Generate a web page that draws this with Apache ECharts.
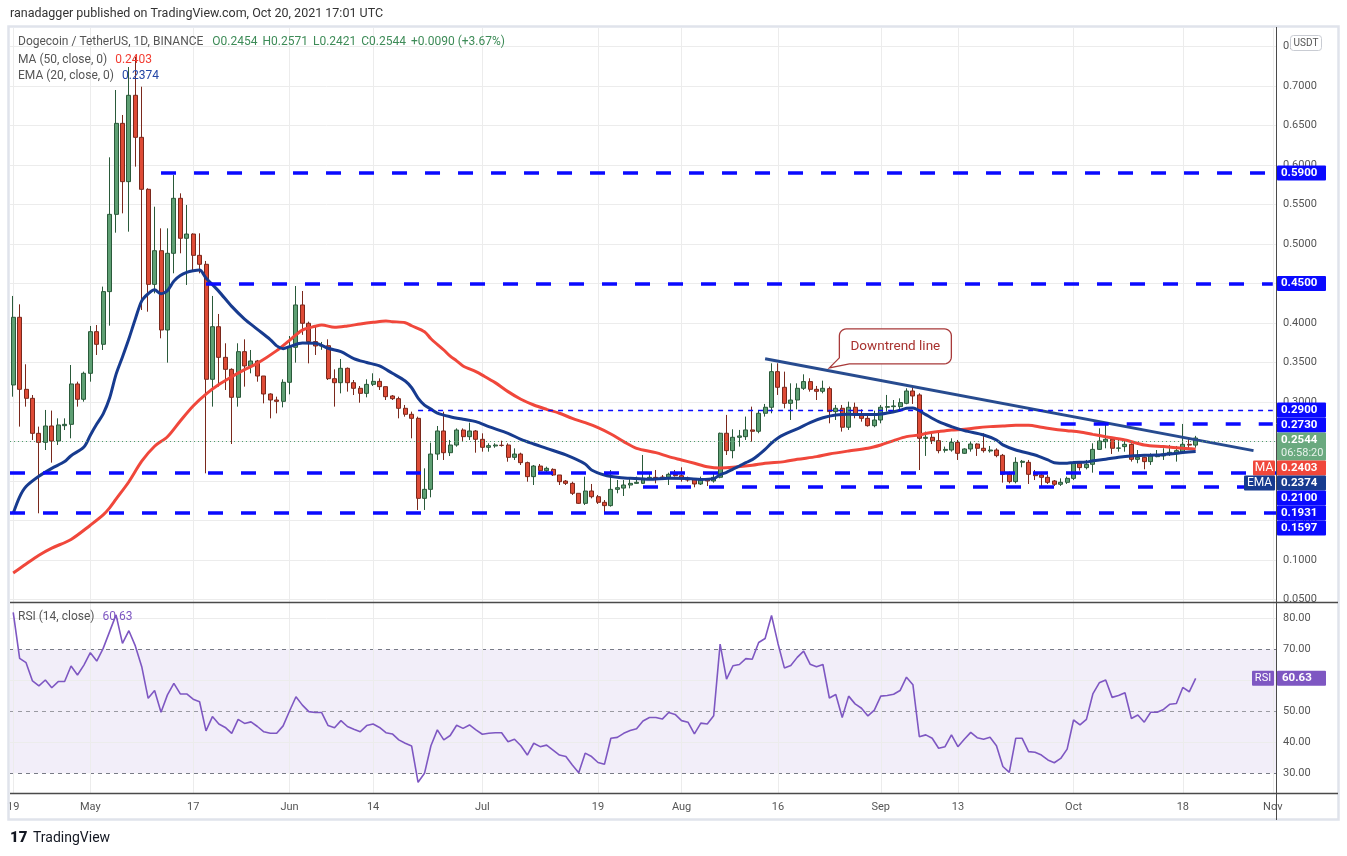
<!DOCTYPE html>
<html><head><meta charset="utf-8">
<script src="https://cdn.jsdelivr.net/npm/echarts/dist/echarts.min.js"></script>
<style>html,body{margin:0;padding:0;background:#fff;}#c{width:1347px;height:856px;}</style>
</head><body><div id="c"></div>
<script>
// ---------------- DATA ----------------
const startDate = [2021, 3, 19];          // 19 Apr 2021, daily bars
const categoryCount = 197;                 // axis runs to 1 Nov 2021
const tickDays   = [0, 12, 28, 43, 56, 73, 91, 104, 119, 135, 147, 165, 182, 196];
const tickLabels = ['19','May','17','Jun','14','Jul','19','Aug','16','Sep','13','Oct','18','Nov'];
const priceTicks = [0.05,0.10,0.15,0.20,0.25,0.30,0.35,0.40,0.45,0.50,0.55,0.60,0.65,0.70,0.75];
const rsiTicks   = [30,40,50,60,70,80];

// [open, high, low, close]
const candles = [
[0.3215,0.4342,0.3067,0.4072],[0.4072,0.4236,0.2688,0.3160],[0.3160,0.3477,0.2941,0.3046],[0.3046,0.3088,0.2519,0.2603],
[0.2603,0.2688,0.1591,0.2489],[0.2489,0.2899,0.2392,0.2696],[0.2696,0.2891,0.2232,0.2506],[0.2506,0.2793,0.2456,0.2709],
[0.2700,0.2793,0.2645,0.2717],[0.2717,0.3468,0.2540,0.3228],[0.3228,0.3257,0.2941,0.3034],[0.3034,0.3384,0.3004,0.3363],
[0.3363,0.3962,0.3257,0.3890],[0.3890,0.3974,0.3595,0.3730],[0.3730,0.4460,0.3658,0.4397],[0.4397,0.6097,0.3966,0.5375],
[0.5375,0.6949,0.5143,0.6527],[0.6527,0.6633,0.5388,0.5789],[0.5789,0.7240,0.5156,0.6882],[0.6882,0.7370,0.5979,0.6350],
[0.6350,0.6991,0.4164,0.5692],[0.5692,0.5705,0.4143,0.4489],[0.4489,0.5472,0.4375,0.4915],[0.4915,0.5198,0.3806,0.3911],
[0.3911,0.5198,0.3498,0.4882],[0.4882,0.5873,0.4629,0.5578],[0.5578,0.5641,0.4882,0.5072],[0.5072,0.5494,0.4481,0.5126],
[0.5126,0.5135,0.4650,0.4856],[0.4856,0.5135,0.4629,0.4743],[0.4743,0.4785,0.2097,0.3287],[0.3287,0.4342,0.2941,0.3953],
[0.3953,0.4114,0.3194,0.3565],[0.3565,0.3743,0.3152,0.3413],[0.3413,0.3426,0.2468,0.3059],[0.3059,0.3743,0.2941,0.3637],
[0.3637,0.3793,0.3194,0.3456],[0.3456,0.3658,0.3363,0.3519],[0.3519,0.3532,0.3257,0.3329],[0.3329,0.3329,0.2983,0.3101],
[0.3101,0.3110,0.2793,0.3025],[0.3025,0.3067,0.2856,0.3008],[0.3008,0.3287,0.2932,0.3249],[0.3249,0.3835,0.3097,0.3692],
[0.3692,0.4468,0.3498,0.4228],[0.4228,0.4405,0.3850,0.3996],[0.3996,0.4017,0.3489,0.3764],[0.3764,0.3953,0.3595,0.3709],
[0.3709,0.3760,0.3660,0.3712],[0.3712,0.3793,0.3278,0.3295],[0.3295,0.3413,0.2941,0.3244],[0.3244,0.3544,0.3109,0.3426],
[0.3426,0.3437,0.3131,0.3244],[0.3244,0.3278,0.3088,0.3173],[0.3173,0.3202,0.2991,0.3109],[0.3109,0.3287,0.3059,0.3223],
[0.3223,0.3363,0.3202,0.3261],[0.3261,0.3299,0.3152,0.3194],[0.3194,0.3194,0.3025,0.3067],[0.3076,0.3088,0.3025,0.3042],
[0.3042,0.3067,0.2793,0.2920],[0.2920,0.2962,0.2814,0.2844],[0.2844,0.2878,0.2540,0.2793],[0.2793,0.2814,0.1633,0.1780],
[0.1780,0.2160,0.1633,0.1894],[0.1894,0.2485,0.1793,0.2341],[0.2341,0.2696,0.2266,0.2633],[0.2633,0.2877,0.2266,0.2358],
[0.2358,0.2519,0.2316,0.2455],[0.2455,0.2666,0.2434,0.2645],[0.2645,0.2666,0.2498,0.2561],[0.2561,0.2738,0.2519,0.2633],
[0.2633,0.2645,0.2358,0.2527],[0.2527,0.2603,0.2371,0.2426],[0.2426,0.2477,0.2371,0.2447],[0.2443,0.2477,0.2420,0.2455],
[0.2452,0.2510,0.2434,0.2450],[0.2455,0.2477,0.2244,0.2299],[0.2299,0.2413,0.2266,0.2341],[0.2341,0.2358,0.2202,0.2232],
[0.2232,0.2245,0.1991,0.2055],[0.2055,0.2202,0.1949,0.2189],[0.2189,0.2215,0.2118,0.2130],[0.2130,0.2181,0.2105,0.2160],
[0.2147,0.2160,0.2063,0.2076],[0.2076,0.2076,0.1949,0.1991],[0.1999,0.2012,0.1949,0.1970],[0.1970,0.1991,0.1823,0.1844],
[0.1844,0.1844,0.1709,0.1717],[0.1717,0.2055,0.1696,0.1873],[0.1873,0.1962,0.1780,0.1801],[0.1801,0.1823,0.1709,0.1730],
[0.1730,0.1759,0.1590,0.1688],[0.1688,0.2139,0.1675,0.1894],[0.1894,0.2012,0.1844,0.1915],[0.1910,0.2012,0.1810,0.1949],
[0.1949,0.2033,0.1907,0.1970],[0.1970,0.2055,0.1962,0.1983],[0.1970,0.2329,0.1962,0.2033],[0.2025,0.2097,0.2012,0.2046],
[0.2046,0.2139,0.1970,0.2042],[0.2050,0.2076,0.2012,0.2033],[0.2046,0.2105,0.1949,0.2084],[0.2084,0.2139,0.2055,0.2067],
[0.2067,0.2173,0.1991,0.2033],[0.2033,0.2055,0.1991,0.2012],[0.2020,0.2033,0.1920,0.1962],[0.1962,0.2055,0.1949,0.2020],
[0.2020,0.2033,0.1936,0.2000],[0.2000,0.2105,0.1979,0.2046],[0.2047,0.2612,0.2034,0.2604],[0.2604,0.2836,0.2329,0.2384],
[0.2384,0.2654,0.2287,0.2553],[0.2553,0.2646,0.2435,0.2570],[0.2561,0.2815,0.2519,0.2646],[0.2646,0.2941,0.2498,0.2629],
[0.2629,0.2899,0.2604,0.2857],[0.2857,0.2975,0.2815,0.2933],[0.2933,0.3490,0.2857,0.3384],[0.3384,0.3490,0.3089,0.3186],
[0.3186,0.3384,0.2920,0.2983],[0.2983,0.3236,0.2772,0.3025],[0.3025,0.3236,0.2907,0.3173],[0.3173,0.3350,0.3152,0.3258],
[0.3258,0.3300,0.3131,0.3160],[0.3160,0.3203,0.3025,0.3135],[0.3135,0.3270,0.3110,0.3173],[0.3169,0.3194,0.2730,0.2878],
[0.2878,0.2962,0.2772,0.2920],[0.2920,0.2962,0.2625,0.2680],[0.2680,0.3004,0.2646,0.2933],[0.2933,0.2992,0.2793,0.2848],
[0.2848,0.2907,0.2751,0.2793],[0.2793,0.2848,0.2688,0.2700],[0.2700,0.2890,0.2680,0.2772],[0.2772,0.2962,0.2730,0.2933],
[0.2933,0.3089,0.2878,0.2941],[0.2941,0.3025,0.2878,0.2950],[0.2941,0.3046,0.2899,0.2992],[0.2983,0.3173,0.2971,0.3139],
[0.3139,0.3182,0.2975,0.3076],[0.3089,0.3110,0.2139,0.2540],[0.2540,0.2625,0.2317,0.2553],[0.2553,0.2603,0.2468,0.2510],
[0.2510,0.2612,0.2350,0.2384],[0.2388,0.2435,0.2359,0.2400],[0.2392,0.2540,0.2371,0.2489],[0.2489,0.2519,0.2266,0.2350],
[0.2350,0.2414,0.2342,0.2405],[0.2405,0.2498,0.2371,0.2468],[0.2468,0.2477,0.2317,0.2414],[0.2414,0.2603,0.2359,0.2384],
[0.2380,0.2443,0.2359,0.2392],[0.2392,0.2414,0.2300,0.2321],[0.2325,0.2342,0.1979,0.2084],[0.2084,0.2118,0.1970,0.1992],
[0.1992,0.2300,0.1970,0.2236],[0.2236,0.2266,0.2173,0.2249],[0.2236,0.2266,0.1962,0.2084],[0.2084,0.2139,0.2012,0.2067],
[0.2076,0.2097,0.1928,0.2046],[0.2046,0.2076,0.1962,0.1983],[0.2000,0.2012,0.1937,0.1958],[0.1958,0.2033,0.1937,0.1983],
[0.1983,0.2055,0.1962,0.2033],[0.2033,0.2245,0.2012,0.2223],[0.2223,0.2245,0.2130,0.2169],[0.2169,0.2266,0.2147,0.2211],
[0.2211,0.2477,0.2105,0.2400],[0.2400,0.2667,0.2392,0.2506],[0.2498,0.2709,0.2414,0.2528],[0.2528,0.2553,0.2342,0.2414],
[0.2414,0.2540,0.2371,0.2418],[0.2435,0.2519,0.2371,0.2464],[0.2464,0.2477,0.2245,0.2274],[0.2274,0.2392,0.2224,0.2300],
[0.2300,0.2308,0.2148,0.2245],[0.2245,0.2350,0.2203,0.2317],[0.2308,0.2392,0.2300,0.2325],[0.2317,0.2414,0.2266,0.2342],
[0.2338,0.2456,0.2317,0.2363],[0.2359,0.2443,0.2245,0.2384],[0.2363,0.2722,0.2350,0.2464],[0.2464,0.2540,0.2392,0.2454],
[0.2454,0.2571,0.2421,0.2544]
];

// [day index, value]
const ma50 = [
[0,0.0835],[2,0.095],[4,0.106],[6,0.115],[9,0.126],[12,0.144],[14,0.157],[15,0.166],[16,0.177],[18,0.199],[20,0.225],
[22,0.244],[24,0.256],[26,0.276],[28,0.295],[30,0.310],[32,0.322],[34,0.332],[36,0.341],[38,0.349],[41,0.365],[43,0.378],
[45,0.391],[47,0.3958],[48,0.3975],[50,0.3945],[52,0.3962],[54,0.3987],[56,0.4008],[58,0.4025],[59,0.4017],[61,0.4004],
[62,0.3965],[64,0.3890],[65,0.3800],[67,0.3658],[68,0.3580],[69,0.3520],[70,0.3456],[72,0.3384],[73,0.3340],[75,0.3245],
[77,0.3131],[79,0.3034],[81,0.2962],[83,0.2907],[85,0.2857],[87,0.2793],[89,0.2738],[91,0.2675],[93,0.2595],[95,0.2498],
[97,0.2413],[100,0.2359],[102,0.2308],[104,0.2266],[106,0.2224],[108,0.2181],[110,0.2165],[112,0.2173],[115,0.2198],
[117,0.2224],[120,0.2245],[122,0.2274],[125,0.2308],[127,0.2342],[130,0.2380],[133,0.2414],[135,0.2456],[137,0.2511],
[139,0.2561],[141,0.2582],[142,0.2600],[144,0.2625],[146,0.2646],[148,0.2654],[150,0.2675],[152,0.2688],[154,0.2696],
[156,0.2705],[158,0.2705],[160,0.2680],[162,0.2654],[164,0.2637],[166,0.2620],[168,0.2590],[170,0.2561],[173,0.2519],
[176,0.2456],[179,0.2435],[182,0.2414],[184,0.2403]
];
const ema20 = [
[0,0.159],[1,0.180],[2,0.193],[4,0.206],[6,0.216],[8,0.2245],[9,0.232],[11,0.243],[12,0.258],[13,0.272],[14,0.285],
[15,0.305],[16,0.335],[17,0.357],[18,0.380],[19,0.405],[20,0.428],[21,0.437],[22,0.442],[23,0.437],[24,0.441],[25,0.453],
[26,0.460],[27,0.464],[28,0.466],[29,0.467],[30,0.457],[32,0.440],[34,0.421],[36,0.405],[38,0.392],[40,0.379],[41,0.371],
[42,0.3675],[43,0.370],[45,0.3745],[47,0.3743],[49,0.368],[51,0.3637],[53,0.355],[55,0.350],[57,0.3456],[59,0.3363],
[61,0.3266],[62,0.318],[63,0.305],[64,0.296],[65,0.291],[66,0.286],[68,0.2814],[70,0.2781],[72,0.2751],[74,0.2688],
[77,0.2603],[79,0.2527],[81,0.2468],[83,0.2413],[86,0.2329],[89,0.2215],[90,0.2139],[92,0.2076],[94,0.2046],[96,0.2034],
[99,0.2021],[102,0.2034],[105,0.2030],[107,0.2020],[109,0.2030],[110,0.2080],[111,0.2110],[112,0.2150],[113,0.2190],
[114,0.2232],[115,0.2270],[116,0.2330],[117,0.2400],[118,0.2480],[119,0.2545],[120,0.2590],[122,0.2660],[124,0.2740],
[126,0.2800],[128,0.2835],[130,0.2845],[132,0.2840],[134,0.2840],[136,0.2860],[138,0.2895],[139,0.2920],[140,0.2925],
[141,0.2890],[142,0.2840],[144,0.2750],[146,0.2688],[148,0.2637],[151,0.2582],[153,0.2519],[154,0.2456],[156,0.2392],
[159,0.2329],[161,0.2266],[162,0.2232],[164,0.2225],[165,0.2235],[167,0.2240],[168,0.2255],[170,0.2275],[172,0.2300],
[174,0.2317],[176,0.2325],[178,0.2329],[180,0.2342],[182,0.2359],[184,0.2374]
];
const rsi14 = [
81.9,67.1,65.7,59.8,58.2,60.1,57.6,59.6,59.6,64.6,61.7,64.9,68.9,66.2,70.3,75.7,81.1,71.9,76.0,71.1,
64.4,54.2,56.7,49.7,55.3,59.0,55.6,55.6,53.9,53.1,43.7,48.3,45.9,44.8,42.9,47.4,46.1,46.6,45.1,43.4,
42.9,42.9,45.3,50.1,54.7,52.0,49.9,49.6,49.6,45.4,44.7,47.0,45.1,44.2,43.4,45.4,45.9,44.8,43.1,42.7,
40.8,39.7,38.8,27.1,30.0,38.9,44.0,40.8,42.2,45.5,44.5,45.6,44.0,42.6,42.9,43.1,43.1,40.2,41.0,38.9,
35.9,39.7,38.6,39.1,37.5,35.9,35.4,32.7,30.2,36.5,35.4,33.5,32.9,41.3,41.6,42.9,43.8,44.4,46.9,48.0,
48.0,47.5,49.6,49.0,47.0,46.5,42.7,46.2,45.9,48.6,71.7,60.4,64.7,65.1,67.0,66.8,72.2,73.5,80.9,71.9,
64.0,64.8,67.4,69.4,65.2,64.4,65.1,54.3,55.4,48.0,54.9,52.4,51.0,48.5,50.4,54.9,55.1,55.5,56.7,61.0,
58.6,41.8,42.4,41.3,38.1,38.6,42.4,38.6,41.0,43.2,41.5,41.0,41.6,38.9,32.2,30.3,41.3,41.3,37.0,36.8,
35.9,34.3,33.4,34.8,37.8,47.2,45.6,47.4,55.6,59.2,60.1,54.5,55.1,56.0,47.7,48.8,46.5,49.7,49.7,50.6,
52.3,52.5,57.7,56.3,60.63
];
const trendLine = [[117, 0.3547], [193, 0.2384]];
const levelValues   = [0.59, 0.45, 0.29, 0.273, 0.21, 0.1931, 0.1597];
const levelStartDay = [23, 30, 63, 163, 0, 98, 0];
const calloutText = 'Downtrend line';
const calloutDay = 127;
const titleText = 'ranadagger published on TradingView.com, Oct 20, 2021 17:01 UTC';
const symbolText = 'Dogecoin / TetherUS, 1D, BINANCE';
const countdown = '06:58:20';

// ---------------- BUILD ----------------
const dates = [];
for (let i = 0; i < categoryCount; i++) {
  const d = new Date(Date.UTC(startDate[0], startDate[1], startDate[2] + i));
  dates.push(d.toISOString().slice(0, 10));
}
const FONT = 'Roboto, "Liberation Sans", sans-serif';
const W = 1347, GL = 10, GR = 71, AXX = W - GR;
const BLUE = '#0a0aff', GREEN_BOX = '#6aa97f', RED = '#f0473b', NAVY = '#173b8f', PURPLE = '#7e57c2';
const GRID_C = '#ececec';

const last = candles[candles.length - 1];
const prevClose = candles[candles.length - 2][3];
const lastClose = last[3];
const maLast = ma50[ma50.length - 1][1];
const emaLast = ema20[ema20.length - 1][1];
const rsiLast = rsi14[rsi14.length - 1];
const trendAt = d => trendLine[0][1] + (trendLine[1][1] - trendLine[0][1]) * (d - trendLine[0][0]) / (trendLine[1][0] - trendLine[0][0]);

const vLines = tickDays.map(d => ({xAxis: dates[d], label: {show: false}}));

const levelLines = levelValues.map((v, i) => {
  const thin = v === 0.29;
  const ls = thin ? {color: BLUE, width: 1.3, type: [5, 5]} : {color: BLUE, width: 3.5, type: [15, 18]};
  if (levelStartDay[i] === 0) return {yAxis: v, lineStyle: ls};
  return [{coord: [dates[levelStartDay[i]], v], lineStyle: ls}, {coord: [dates[categoryCount - 1], v]}];
});

const option = {
  animation: false,
  backgroundColor: '#ffffff',
  textStyle: {fontFamily: FONT},
  grid: [
    {left: GL, right: GR, top: 28, height: 574},
    {left: GL, right: GR, top: 603, height: 190}
  ],
  xAxis: [
    {type: 'category', gridIndex: 0, data: dates, boundaryGap: true,
     axisLine: {show: false}, axisTick: {show: false}, axisLabel: {show: false}, splitLine: {show: false}},
    {type: 'category', gridIndex: 1, data: dates, boundaryGap: true,
     axisLine: {show: false}, axisTick: {show: false}, splitLine: {show: false},
     axisLabel: {show: true, interval: i => tickDays.includes(i),
       formatter: (v, i) => tickLabels[tickDays.indexOf(i)] || '',
       color: '#555', fontSize: 11, margin: 9, fontFamily: FONT}}
  ],
  yAxis: [
    {type: 'value', gridIndex: 0, min: 0.0468, max: 0.7734, position: 'right',
     axisLine: {show: false}, axisTick: {show: false}, axisLabel: {show: false}, splitLine: {show: false}},
    {type: 'value', gridIndex: 1, min: 23.65, max: 84.94, position: 'right',
     axisLine: {show: false}, axisTick: {show: false}, axisLabel: {show: false}, splitLine: {show: false}}
  ],
  series: [
    { // price grid lines + tick labels
      type: 'line', xAxisIndex: 0, yAxisIndex: 0, data: dates.map(() => null), silent: true, z: 0,
      markLine: {
        silent: true, symbol: ['none', 'none'], z: 1, animation: false,
        lineStyle: {color: GRID_C, width: 1, type: 'solid'},
        label: {show: true, position: 'end', distance: 7, color: '#555', fontSize: 11, fontFamily: FONT,
                formatter: p => Number(p.value).toFixed(4)},
        data: priceTicks.map(v => ({yAxis: v})).concat(vLines)
      }
    },
    { // rsi grid lines, bands
      type: 'line', xAxisIndex: 1, yAxisIndex: 1, data: dates.map(() => null), silent: true, z: 0,
      markArea: {silent: true, itemStyle: {color: 'rgba(126,87,194,0.10)'}, data: [[{yAxis: 30}, {yAxis: 70}]]},
      markLine: {
        silent: true, symbol: ['none', 'none'], z: 1, animation: false,
        label: {show: true, position: 'end', distance: 7, color: '#555', fontSize: 11, fontFamily: FONT,
                formatter: p => Number(p.value).toFixed(2)},
        data: rsiTicks.map(v => ({yAxis: v, lineStyle: (v === 30 || v === 50 || v === 70)
                ? {color: v === 50 ? '#9a9aa2' : '#787b86', width: 1, type: [4, 4]}
                : {color: GRID_C, width: 1, type: 'solid'}}))
              .concat(tickDays.map(d => ({xAxis: dates[d], label: {show: false}, lineStyle: {color: GRID_C, width: 1, type: 'solid'}})))
      }
    },
    {
      type: 'candlestick', name: 'DOGEUSDT', xAxisIndex: 0, yAxisIndex: 0, z: 3, barWidth: '70%',
      data: candles.map(r => [r[0], r[3], r[2], r[1]]),
      itemStyle: {color: '#5e9f73', color0: '#de4b36', borderColor: '#2a5a3a', borderColor0: '#7a281c', borderWidth: 1}
    },
    {type: 'line', name: 'MA', xAxisIndex: 0, yAxisIndex: 0, z: 4, data: ma50.map(p => [dates[p[0]], p[1]]),
     smooth: 0.3, showSymbol: false, symbol: 'none', lineStyle: {color: RED, width: 3}},
    {type: 'line', name: 'EMA', xAxisIndex: 0, yAxisIndex: 0, z: 4, data: ema20.map(p => [dates[p[0]], p[1]]),
     smooth: 0.3, showSymbol: false, symbol: 'none', lineStyle: {color: NAVY, width: 3}},
    {type: 'line', name: 'Trend', xAxisIndex: 0, yAxisIndex: 0, z: 5, data: trendLine.map(p => [dates[p[0]], p[1]]),
     showSymbol: false, symbol: 'none', lineStyle: {color: '#274b8f', width: 3}},
    { // horizontal levels + last price line
      type: 'line', xAxisIndex: 0, yAxisIndex: 0, data: dates.map(() => null), silent: true, z: 6,
      markLine: {
        silent: true, symbol: ['none', 'none'], z: 6, animation: false, label: {show: false},
        data: levelLines.concat([{yAxis: lastClose, lineStyle: {color: '#4f9e6c', width: 1, type: [1, 3]}}])
      }
    },
    {type: 'line', name: 'RSI', xAxisIndex: 1, yAxisIndex: 1, z: 4, data: rsi14, showSymbol: false, symbol: 'none',
     lineStyle: {color: PURPLE, width: 1.6}}
  ]
};

const chart = echarts.init(document.getElementById('c'), null, {renderer: 'canvas'});
chart.setOption(option);

// ---------------- OVERLAYS ----------------
const mctx = document.createElement('canvas').getContext('2d');
function txt(x, y, text, color, size, weight, align) {
  const font = (weight ? weight + ' ' : '') + size + 'px ' + FONT;
  return {type: 'text', x: x, y: y, z: 200, silent: true,
          style: {text: text, fill: color, font: font, align: align || 'left', textAlign: align || 'left',
                  verticalAlign: 'middle', textVerticalAlign: 'middle'}};
}
function runs(x, y, parts, size) {
  const out = []; let cx = x;
  parts.forEach(([t, c, gap]) => {
    cx += gap || 0;
    out.push(txt(cx, y, t, c, size));
    mctx.font = size + 'px ' + FONT;
    cx += mctx.measureText(t).width;
  });
  return out;
}
const yP = v => chart.convertToPixel({yAxisIndex: 0}, v);
const yR = v => chart.convertToPixel({yAxisIndex: 1}, v);
const xyP = (d, v) => chart.convertToPixel({xAxisIndex: 0, yAxisIndex: 0}, [dates[d], v]);

const g = [];
// frame & separators
g.push({type: 'rect', z: 110, silent: true, shape: {x: 8.5, y: 26.5, width: 1330, height: 793},
        style: {fill: 'none', stroke: '#e0e3eb', lineWidth: 2.5}});
g.push({type: 'line', z: 111, silent: true, shape: {x1: GL, y1: 602.5, x2: 1338, y2: 602.5}, style: {stroke: '#4a4a4a', lineWidth: 1.5}});
g.push({type: 'line', z: 111, silent: true, shape: {x1: GL, y1: 793.5, x2: 1338, y2: 793.5}, style: {stroke: '#4a4a4a', lineWidth: 1.5}});
g.push({type: 'line', z: 111, silent: true, shape: {x1: AXX + 0.5, y1: 27, x2: AXX + 0.5, y2: 820}, style: {stroke: '#4a4a4a', lineWidth: 1}});

// header texts
g.push(txt(10, 14, titleText, '#333', 12.5));
const chg = lastClose - prevClose;
const pct = chg / prevClose * 100;
const GREEN_T = '#3d8b57';
g.push(...runs(18, 42, [
  [symbolText, '#555'],
  ['O' + last[0].toFixed(4), GREEN_T, 9], ['H' + last[1].toFixed(4), GREEN_T, 5],
  ['L' + last[2].toFixed(4), GREEN_T, 5], ['C' + last[3].toFixed(4), GREEN_T, 5],
  [(chg >= 0 ? '+' : '') + chg.toFixed(4) + ' (' + (pct >= 0 ? '+' : '') + pct.toFixed(2) + '%)', GREEN_T, 5]
], 12));
g.push(...runs(18, 60, [['MA (50, close, 0)', '#555'], [maLast.toFixed(4), '#f23b30', 8]], 12));
g.push(...runs(18, 76, [['EMA (20, close, 0)', '#555'], [emaLast.toFixed(4), '#2446a6', 8]], 12));
g.push(...runs(18, 617, [['RSI (14, close)', '#555'], [rsiLast.toFixed(2), PURPLE, 8]], 12));

// USDT badge
g.push({type: 'rect', z: 125, silent: true, shape: {x: 1290.5, y: 35.5, width: 31, height: 15, r: 3},
        style: {fill: '#fff', stroke: '#c9ccd3', lineWidth: 1}});
g.push(txt(1306, 43, 'USDT', '#555', 10, null, 'center'));

// right-axis value boxes (stacked when they would overlap)
const BOXW = 49;
const boxes = levelValues.map(v => ({v: v, bg: BLUE, lines: [v.toFixed(4)], h: 15}));
boxes.push({v: lastClose, bg: GREEN_BOX, lines: [lastClose.toFixed(4), countdown], h: 28});
boxes.push({v: maLast, bg: RED, lines: [maLast.toFixed(4)], h: 15, tag: 'MA', tagW: 22});
boxes.push({v: emaLast, bg: NAVY, lines: [emaLast.toFixed(4)], h: 15, tag: 'EMA', tagW: 31});
boxes.forEach(b => { b.y = yP(b.v); });
boxes.sort((a, b) => a.y - b.y);
let prevBottom = -1e9;
boxes.forEach(b => {
  const want = b.lines.length > 1 ? b.y - 7.5 : b.y - b.h / 2;
  const top = Math.max(want, prevBottom);
  prevBottom = top + b.h;
  g.push({type: 'rect', z: 130, silent: true, shape: {x: AXX + 1, y: top, width: BOXW, height: b.h, r: 1}, style: {fill: b.bg}});
  if (b.lines.length > 1) {
    g.push(txt(AXX + 5, top + 7.5, b.lines[0], '#fff', 11.5, 'bold'));
    g.push(txt(AXX + 5, top + 20.5, b.lines[1], 'rgba(255,255,255,0.85)', 11));
  } else {
    g.push(txt(AXX + 5, top + b.h / 2, b.lines[0], '#fff', 11.5, 'bold'));
  }
  if (b.tag) {
    g.push({type: 'rect', z: 130, silent: true, shape: {x: AXX - b.tagW - 1, y: top, width: b.tagW, height: b.h, r: 1}, style: {fill: b.bg}});
    g.push(txt(AXX - 1 - b.tagW / 2, top + b.h / 2, b.tag, '#fff', 12, null, 'center'));
  }
});

// RSI value box
const ry = yR(rsiLast);
g.push({type: 'rect', z: 130, silent: true, shape: {x: AXX + 1, y: ry - 7.5, width: BOXW, height: 15, r: 1}, style: {fill: PURPLE}});
g.push(txt(AXX + 6, ry, rsiLast.toFixed(2), '#fff', 11.5, 'bold'));
g.push({type: 'rect', z: 130, silent: true, shape: {x: AXX - 24, y: ry - 7.5, width: 22, height: 15, r: 1}, style: {fill: PURPLE}});
g.push(txt(AXX - 13, ry, 'RSI', '#fff', 11, null, 'center'));

// callout bubble pointing to the trend line (rounded box + tail as one polygon)
const tip = xyP(calloutDay, trendAt(calloutDay));
const tx = tip[0], ty = tip[1] - 3;
const bx0 = tx + 10, bx1 = tx + 122, by0 = ty - 39, by1 = ty - 4, r = 7;
const pts = [];
function arc(cx, cy, a0, a1) {
  for (let k = 0; k <= 6; k++) { const a = a0 + (a1 - a0) * k / 6; pts.push([cx + r * Math.cos(a), cy + r * Math.sin(a)]); }
}
arc(bx0 + r, by0 + r, Math.PI, 1.5 * Math.PI);
arc(bx1 - r, by0 + r, 1.5 * Math.PI, 2 * Math.PI);
arc(bx1 - r, by1 - r, 0, 0.5 * Math.PI);
pts.push([bx0 + 10, by1]);
pts.push([tx, ty]);
pts.push([bx0, by1 - 6]);
g.push({type: 'polygon', z: 140, silent: true, shape: {points: pts}, style: {fill: '#fff', stroke: '#a83a3a', lineWidth: 1.3}});
g.push(txt((bx0 + bx1) / 2, (by0 + by1) / 2, calloutText, '#a8322f', 13.5, null, 'center'));

// footer logo
g.push(txt(10, 838, '17', '#131722', 15, '900'));
g.push(txt(33, 838, 'TradingView', '#131722', 14));

chart.setOption({graphic: g});
</script></body></html>
